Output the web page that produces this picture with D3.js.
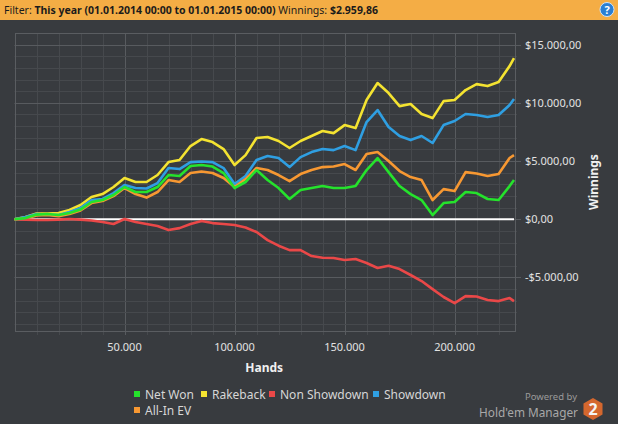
<!DOCTYPE html>
<html>
<head>
<meta charset="utf-8">
<script src="https://cdn.jsdelivr.net/npm/d3@7/dist/d3.min.js"></script>
<style>
body { margin: 0; background: #383b3f; }
svg { display: block; }
</style>
</head>
<body>
<div id="hm_chart"></div>
<script>
// hands played (x), one sample every 5.000 hands
var hands = [0, 5000, 10000, 15000, 20000, 25000, 30000, 35000, 40000, 45000,
  50000, 55000, 60000, 65000, 70000, 75000, 80000, 85000, 90000, 95000,
  100000, 105000, 110000, 115000, 120000, 125000, 130000, 135000, 140000, 145000,
  150000, 155000, 160000, 165000, 170000, 175000, 180000, 185000, 190000, 195000,
  200000, 205000, 210000, 215000, 220000, 225000, 227000];

var netWon = [0, 100, 400, 450, 360, 530, 830, 1480, 1650, 2080,
  2770, 2340, 2340, 2770, 3800, 3710, 4570, 4660, 4530, 3970,
  2680, 3200, 4230, 3370, 2680, 1740, 2510, 2680, 2850, 2680,
  2680, 2850, 4230, 5260, 4050, 2850, 2160, 1650, 360, 1390,
  1480, 2340, 2250, 1740, 1650, 2850, 3370];

var rakeback = [0, 190, 490, 490, 530, 790, 1220, 1910, 2160, 2770,
  3540, 3200, 3200, 3800, 4910, 5090, 6290, 6890, 6630, 6030,
  4660, 5510, 6980, 7060, 6720, 6120, 6720, 7150, 7580, 7400,
  8090, 7830, 10240, 11700, 10840, 9720, 9900, 9040, 8690, 10150,
  10240, 11100, 11610, 11440, 11790, 13160, 13850];

var nonShowdown = [0, -30, -70, -70, -30, 20, -30, -110, -240, -410,
  20, -240, -410, -580, -930, -760, -410, -150, -330, -410,
  -500, -710, -1100, -1790, -2270, -2650, -2650, -3160, -3310, -3330,
  -3500, -3420, -3760, -4190, -3990, -4280, -4790, -5310, -6000, -6680,
  -7200, -6600, -6640, -6940, -7030, -6770, -7030];

var showdown = [0, 190, 450, 400, 360, 620, 960, 1650, 1740, 2250,
  2940, 2680, 2640, 3110, 4400, 4310, 4910, 4960, 4910, 4400,
  3020, 3710, 5090, 5430, 5260, 4480, 5340, 5770, 6030, 5940,
  6290, 5940, 8350, 9380, 7920, 7150, 6800, 7150, 6550, 8090,
  8440, 9040, 8950, 8780, 8950, 9810, 10330];

var allInEv = [0, 60, 320, 360, 270, 450, 750, 1390, 1560, 1990,
  2680, 2160, 1860, 2340, 3370, 3200, 3970, 4100, 3970, 3540,
  2770, 3450, 4400, 4230, 3800, 3280, 3880, 4230, 4480, 4530,
  4740, 4230, 5600, 5770, 5000, 4140, 3620, 3370, 1650, 2590,
  2420, 4050, 3930, 3710, 3880, 5260, 5510];

var legendNames = ["Net Won", "Rakeback", "Non Showdown", "Showdown", "All-In EV"];
var xTicks = [50000, 100000, 150000, 200000];
var yTicks = [-5000, 0, 5000, 10000, 15000];

var W = 618, H = 424;
var plot = {left: 14.5, right: 514, top: 33, bottom: 331};
var colors = ["#25e22c", "#f4e331", "#ea4848", "#2f9fe2", "#f79832"];
var font = "'Noto Sans', 'Open Sans', sans-serif";

function money(v) {
  var s = d3.format(",.2f")(Math.abs(v));
  s = s.replace(/,/g, "#").replace(".", ",").replace(/#/g, ".");
  return (v < 0 ? "-" : "") + "$" + s;
}
function thousands(v) {
  return d3.format(",")(v).replace(/,/g, ".");
}

var svg = d3.select("#hm_chart")
  .append("svg")
  .attr("width", W)
  .attr("height", H);

svg.append("rect").attr("width", W).attr("height", H).attr("fill", "#383b3f");

// header bar
svg.append("rect").attr("width", W).attr("height", 20).attr("fill", "#f4ad45");
var head = svg.append("text")
  .attr("x", 4).attr("y", 14)
  .style("font-family", font).style("font-size", "10.5px")
  .attr("fill", "#1b1b1b");
head.append("tspan").text("Filter: ");
head.append("tspan").attr("font-weight", "700").text("This year (01.01.2014 00:00 to 01.01.2015 00:00)");
head.append("tspan").text(" Winnings: ");
head.append("tspan").attr("font-weight", "700").text("$2.959,86");

svg.append("circle").attr("cx", 607).attr("cy", 9.5).attr("r", 7)
  .attr("fill", "#2a7fd4").attr("stroke", "#cfe3f7").attr("stroke-width", 1);
svg.append("text").attr("x", 607).attr("y", 13.5)
  .attr("text-anchor", "middle")
  .style("font-family", font).style("font-size", "11px").style("font-weight", "700")
  .attr("fill", "#fff").text("?");

var x = d3.scaleLinear()
  .domain([0, 227000])
  .range([plot.left, plot.right]);

var y = d3.scaleLinear()
  .domain([-9600, 16000])
  .range([plot.bottom, plot.top]);

// grid
var grid = svg.append("g");
grid.selectAll("vminor")
  .data(d3.range(10000, 227000, 10000))
  .enter().append("line")
  .attr("x1", function(d) { return Math.round(x(d)) + 0.5; })
  .attr("x2", function(d) { return Math.round(x(d)) + 0.5; })
  .attr("y1", plot.top).attr("y2", plot.bottom + 4)
  .attr("stroke", function(d) { return d % 50000 == 0 ? "#585b5f" : "#46494d"; });

grid.selectAll("hminor")
  .data(d3.range(-9000, 16000, 1000))
  .enter().append("line")
  .attr("y1", function(d) { return Math.round(y(d)) + 0.5; })
  .attr("y2", function(d) { return Math.round(y(d)) + 0.5; })
  .attr("x1", plot.left)
  .attr("x2", function(d) { return d % 5000 == 0 ? plot.right + 7 : plot.right + 3; })
  .attr("stroke", function(d) { return d % 5000 == 0 ? "#585b5f" : "#46494d"; });

svg.append("rect")
  .attr("x", Math.round(plot.left) + 0.5).attr("y", plot.top + 0.5)
  .attr("width", Math.round(plot.right - plot.left))
  .attr("height", plot.bottom - plot.top)
  .attr("fill", "none").attr("stroke", "#5a5d61");

// axes labels
svg.append("g")
  .selectAll("text")
  .data(xTicks)
  .enter().append("text")
  .attr("x", function(d) { return x(d); })
  .attr("y", 351)
  .attr("text-anchor", "middle")
  .style("font-family", font).style("font-size", "11px")
  .attr("fill", "#e2e2e2")
  .text(thousands);

svg.append("g")
  .selectAll("text")
  .data(yTicks)
  .enter().append("text")
  .attr("x", plot.right + 11)
  .attr("y", function(d) { return y(d) + 4; })
  .style("font-family", font).style("font-size", "11px")
  .attr("fill", "#e2e2e2")
  .text(money);

svg.append("text")
  .attr("x", (plot.left + plot.right) / 2).attr("y", 372)
  .attr("text-anchor", "middle")
  .style("font-family", font).style("font-size", "12px").style("font-weight", "700")
  .attr("fill", "#f0f0f0")
  .text("Hands");

svg.append("text")
  .attr("transform", "translate(598," + ((plot.top + plot.bottom) / 2) + ") rotate(-90)")
  .attr("text-anchor", "middle")
  .style("font-family", font).style("font-size", "12px").style("font-weight", "700")
  .attr("fill", "#f0f0f0")
  .text("Winnings");

// zero line
svg.append("line")
  .attr("x1", plot.left).attr("x2", plot.right)
  .attr("y1", y(0)).attr("y2", y(0))
  .attr("stroke", "#ffffff").attr("stroke-width", 2.2);

// series
var series = [netWon, rakeback, nonShowdown, showdown, allInEv];
var drawOrder = [1, 3, 4, 2, 0];
var line = d3.line()
  .x(function(d, i) { return x(hands[i]); })
  .y(function(d) { return y(d); });

drawOrder.forEach(function(k) {
  svg.append("path")
    .datum(series[k])
    .attr("d", line)
    .attr("fill", "none")
    .attr("stroke", colors[k])
    .attr("stroke-width", 2.6)
    .attr("stroke-linejoin", "round");
});

// legend
var legendPos = [[134, 394], [201, 394], [269, 394], [373, 394], [134, 410]];
var leg = svg.append("g");
legendNames.forEach(function(name, i) {
  leg.append("rect")
    .attr("x", legendPos[i][0]).attr("y", legendPos[i][1] - 3)
    .attr("width", 6).attr("height", 6)
    .attr("fill", colors[i]);
  leg.append("text")
    .attr("x", legendPos[i][0] + 11).attr("y", legendPos[i][1] + 4.5)
    .style("font-family", font).style("font-size", "12px")
    .attr("fill", "#d6d6d6")
    .text(name);
});

// logo
svg.append("text").attr("x", 577).attr("y", 400)
  .attr("text-anchor", "end")
  .style("font-family", font).style("font-size", "9.5px")
  .attr("fill", "#9a9a9a").text("Powered by");
svg.append("text").attr("x", 578).attr("y", 417)
  .attr("text-anchor", "end")
  .style("font-family", font).style("font-size", "11.8px")
  .attr("fill", "#a8a8a8").text("Hold'em Manager");
var hex = d3.range(6).map(function(i) {
  var a = Math.PI / 3 * i + Math.PI / 6;
  return [593 + 11 * Math.cos(a), 409 + 11 * Math.sin(a)];
});
svg.append("polygon").attr("points", hex.join(" ")).attr("fill", "#d4672e");
svg.append("text").attr("x", 593).attr("y", 415)
  .attr("text-anchor", "middle")
  .style("font-family", font).style("font-size", "16px").style("font-weight", "700")
  .attr("fill", "#f4f4f4").text("2");
</script>
</body>
</html>
